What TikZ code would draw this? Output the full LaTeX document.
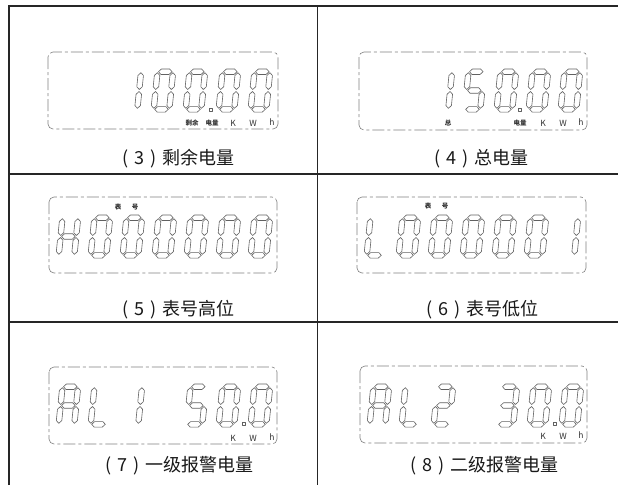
\documentclass[tikz,border=0pt]{standalone}
\usepackage{fontspec}
\setmainfont{Noto Sans CJK SC}
\def\hw{2.75}
\newcommand{\hseg}[3]{\draw[seg] (#1,#3) -- ({#1+\hw},{#3+\hw}) -- ({#2-\hw},{#3+\hw}) -- (#2,#3) -- ({#2-\hw},{#3-\hw}) -- ({#1+\hw},{#3-\hw}) -- cycle;}
\newcommand{\vseg}[3]{\draw[seg] (#1,#2) -- ({#1+\hw},{#2+\hw}) -- ({#1+\hw},{#3-\hw}) -- (#1,#3) -- ({#1-\hw},{#3-\hw}) -- ({#1-\hw},{#2+\hw}) -- cycle;}
\def\segA{\hseg{1}{14.6}{37.6}}
\def\segB{\vseg{15.6}{19.8}{36.6}}
\def\segC{\vseg{15.6}{1}{17.8}}
\def\segD{\hseg{1}{14.6}{0}}
\def\segE{\vseg{0}{1}{17.8}}
\def\segF{\vseg{0}{19.8}{36.6}}
\def\segG{\hseg{1}{14.6}{18.8}}
\def\dZero{\segA\segB\segC\segD\segE\segF}
\def\dOne{\segB\segC}
\def\dTwo{\segA\segB\segG\segE\segD}
\def\dThree{\segA\segB\segG\segC\segD}
\def\dFive{\segA\segF\segG\segC\segD}
\def\dH{\segF\segE\segG\segB\segC}
\def\dL{\segF\segE\segD}
\def\dA{\segA\segB\segC\segE\segF\segG}
\newcommand{\dig}[3]{\begin{scope}[shift={({#1+2.7},{#2-2.7})}, xslant=0.1, yscale=-1]#3\end{scope}}
\newcommand{\dpt}[2]{\draw[seg] ({#1-1.6},{#2-1.6}) rectangle ({#1+1.6},{#2+1.6});}
\begin{document}
\begin{tikzpicture}[x=1pt,y=-1pt,
  frame/.style={draw=black!85, line width=1.4pt},
  panel/.style={draw=black!50, line width=0.6pt, rounded corners=5pt, dash pattern=on 12pt off 3pt on 3pt off 3pt},
  seg/.style={draw=black!62, line width=0.6pt, line join=round},
  lab/.style={font=\fontsize{18}{21}\selectfont, text=black!90, inner sep=0pt},
  tiny/.style={font=\fontsize{6.5}{7}\selectfont\bfseries, inner sep=0pt, text=black!80},
  unit/.style={font=\fontsize{8.5}{9}\selectfont, inner sep=0pt, text=black!80}]
\useasboundingbox (0,0) rectangle (618,485);
\fill[white] (0,0) rectangle (618,485);
% frame
\draw[frame] (9,485) -- (9,6) -- (618,6);
\draw[frame] (317.5,6) -- (317.5,485);
\draw[frame] (9,174) -- (618,174);
\draw[frame] (9,322) -- (618,322);
% panels
\draw[panel] (48,52) rectangle (278,129);
\draw[panel] (359,52) rectangle (587,130);
\draw[panel] (49,197) rectangle (277,273);
\draw[panel] (357,197) rectangle (586,273);
\draw[panel] (49,367) rectangle (277,444);
\draw[panel] (360,366) rectangle (587,443);
% panel 1: 100.00
\dig{119}{112}{\dOne}
\foreach \xx in {151,183,216,248} {\dig{\xx}{112}{\dZero}}
\dpt{211}{110}
% panel 2: 150.00
\dig{430}{112}{\dOne}
\dig{462}{112}{\dFive}
\foreach \xx in {494,526,558} {\dig{\xx}{112}{\dZero}}
\dpt{520}{110}
% panel 3: H000000
\dig{56}{258}{\dH}
\foreach \xx in {88,120,152,184,216,248} {\dig{\xx}{258}{\dZero}}
% panel 4: L00000 1
\dig{364}{258}{\dL}
\foreach \xx in {396,428,460,492,524} {\dig{\xx}{258}{\dZero}}
\dig{556}{258}{\dOne}
% panel 5: AL1 50.0
\dig{56}{427}{\dA}
\dig{88}{427}{\dL}
\dig{120}{427}{\dOne}
\dig{184}{427}{\dFive}
\foreach \xx in {216,248} {\dig{\xx}{427}{\dZero}}
\dpt{244}{424}
% panel 6: AL2 30.0
\dig{367}{427}{\dA}
\dig{399}{427}{\dL}
\dig{431}{427}{\dTwo}
\dig{495}{427}{\dThree}
\foreach \xx in {527,559} {\dig{\xx}{427}{\dZero}}
\dpt{555}{424}
% small labels
\node[tiny] (p1a) at (192,123) {剩余};
\node[tiny] (p1b) at (212,123) {电量};
\node[unit] (p1k) at (233,123) {K};
\node[unit] (p1w) at (253,123) {W};
\node[unit] (p1h) at (272,122) {h};
\node[tiny] (p2a) at (448,123) {总};
\node[tiny] (p2b) at (520,123) {电量};
\node[unit] (p2k) at (543,123) {K};
\node[unit] (p2w) at (563,123) {W};
\node[unit] (p2h) at (581,122) {h};
\node[tiny] (p3a) at (118,207) {表};
\node[tiny] (p3b) at (135,207) {号};
\node[tiny] (p4a) at (428,206) {表};
\node[tiny] (p4b) at (445,206) {号};
\node[unit] (p5k) at (233,438) {K};
\node[unit] (p5w) at (253,438) {W};
\node[unit] (p5h) at (272,437) {h};
\node[unit] (p6k) at (543,436) {K};
\node[unit] (p6w) at (563,436) {W};
\node[unit] (p6h) at (581,435) {h};
% captions
\node[lab] (t3) at (176,159) {\makebox[1em]{(}3\makebox[1em]{)}剩余电量};
\node[lab] (t4) at (479,159) {\makebox[1em]{(}4\makebox[1em]{)}总电量};
\node[lab] (t5) at (176,310) {\makebox[1em]{(}5\makebox[1em]{)}表号高位};
\node[lab] (t6) at (480,310) {\makebox[1em]{(}6\makebox[1em]{)}表号低位};
\node[lab] (t7) at (177,466) {\makebox[1em]{(}7\makebox[1em]{)}一级报警电量};
\node[lab] (t8) at (482,466) {\makebox[1em]{(}8\makebox[1em]{)}二级报警电量};
\end{tikzpicture}
\end{document}
